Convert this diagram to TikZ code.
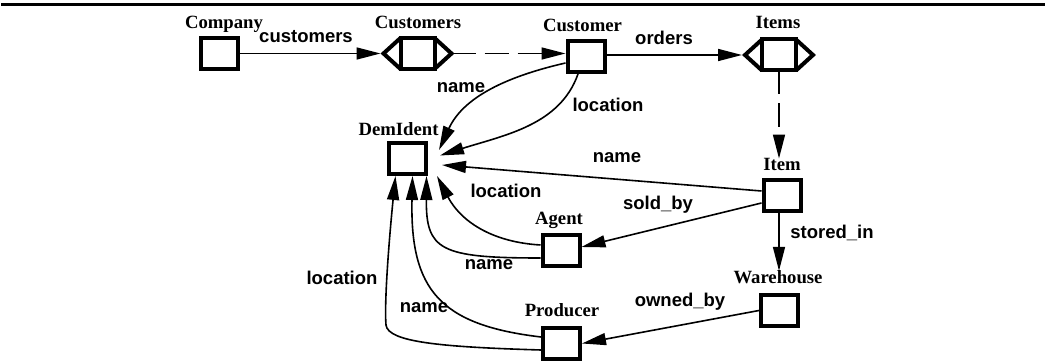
\documentclass[tikz,border=0pt]{standalone}
\usepackage{fontspec}
\setmainfont{Liberation Serif}
\setsansfont{Liberation Sans}
\usetikzlibrary{arrows.meta}
\begin{document}
\begin{tikzpicture}[x=1pt,y=-1pt,
  box/.style={draw, line width=4pt, minimum width=37pt, minimum height=31pt, inner sep=0pt, fill=white},
  hexbox/.style={box, minimum width=34pt, outer sep=0pt},
  hexside/.style={line width=4pt, line join=miter},
  tl/.style={font=\fontsize{18.7}{20}\selectfont\bfseries, anchor=base, inner sep=0pt},
  el/.style={font=\fontsize{18.5}{20}\selectfont\sffamily\bfseries, anchor=base, inner sep=0pt},
  conn/.style={line width=1.6pt, -{Triangle[length=24pt,width=12pt]}},
  dsh/.style={conn, dash pattern=on 24pt off 9pt}]
\useasboundingbox (0,0) rectangle (1045,363);
\draw[line width=3pt] (1,4.5) -- (1045,4.5);

% boxes
\node[box] (comp) at (219.5,53.5) {};
\node[tl] (compl) at (224,28.5) {Company};
\node[hexbox] (cs) at (417.5,53.5) {};
\node[tl] (csl) at (418,29) {Customers};
\node[box] (cu) at (586,56.5) {};
\node[tl] (cul) at (582.5,31.5) {Customer};
\node[hexbox] (its) at (779,55) {};
\node[tl] (itsl) at (778,29) {Items};
\node[box] (it) at (782,196) {};
\node[tl] (itl) at (782,171) {Item};
\node[box] (wh) at (779.5,310.5) {};
\node[tl] (whl) at (778,284) {Warehouse};
\node[box] (pr) at (561.5,343.5) {};
\node[tl] (prl) at (562,317) {Producer};
\node[box] (ag) at (561,251) {};
\node[tl] (agl) at (559,225) {Agent};
\node[box] (dm) at (407.5,158.5) {};
\node[tl] (dml) at (398.5,136) {DemIdent};

% hexagon sides
\coordinate (csw) at ([xshift=-17pt]cs.west);
\coordinate (cse) at ([xshift=17pt]cs.east);
\coordinate (cswt) at ([xshift=-20pt]cs.west);
\draw[hexside] (cs.north west) -- (csw) -- (cs.south west);
\draw[hexside] (cs.north east) -- (cse) -- (cs.south east);
\coordinate (itsw) at ([xshift=-17pt]its.west);
\coordinate (itse) at ([xshift=17pt]its.east);
\coordinate (itswt) at ([xshift=-20pt]its.west);
\draw[hexside] (its.north west) -- (itsw) -- (its.south west);
\draw[hexside] (its.north east) -- (itse) -- (its.south east);

% connectors
\draw[conn] (comp.east) -- (cswt);
\draw[dsh] (cse) -- (cse -| cu.west);
\draw[conn] (cu.east |- itswt) -- (itswt);
\draw[dsh] (its.south) -- (its.south |- itl.north);
\draw[conn] (it.south -| its.south) -- (whl.north -| its.south);
\draw[conn] ([yshift=-7pt]it.west) -- ([yshift=4pt]ag.east);
\draw[conn] (wh.west) -- (pr.east);
\draw[conn] ([yshift=5pt]it.west) -- ([xshift=14pt,yshift=-6.5pt]dm.east);
\draw[conn] ([yshift=-6.5pt]cu.west) .. controls (500,78) and (462,100) .. ([xshift=11pt,yshift=8.5pt]dm.east);
\draw[conn] ([xshift=-8pt]cu.south) .. controls (560,125) and (505,135) .. ([xshift=12pt,yshift=3pt]dm.east);
\draw[conn] ([yshift=6pt]ag.west) .. controls (490,242) and (460,220) .. ([xshift=9pt]dm.south east);
\draw[conn] ([yshift=-7pt]ag.west) .. controls (440,258) and (426,250) .. ([xshift=19pt]dm.south);
\draw[conn] ([yshift=6.5pt]pr.west) .. controls (440,325) and (410,290) .. ([xshift=5pt]dm.south);
\draw[conn] ([yshift=-6.5pt]pr.west) .. controls (440,347) and (388,342) .. (386,325)
   .. controls (384,300) and (390,230) .. ([xshift=-12pt]dm.south);

% edge labels
\node[el] (l1) at (306,43) {customers};
\node[el] (l2) at (664,45) {orders};
\node[el] (l3) at (461,93) {name};
\node[el] (l4) at (608,112) {location};
\node[el] (l5) at (617,163) {name};
\node[el] (l6) at (506,198) {location};
\node[el] (l7) at (658,210) {sold\_by};
\node[el] (l8) at (832,238.5) {stored\_in};
\node[el] (l9) at (489,270) {name};
\node[el] (l10) at (342,285) {location};
\node[el] (l11) at (424,313) {name};
\node[el] (l12) at (680,307) {owned\_by};
\end{tikzpicture}
\end{document}
